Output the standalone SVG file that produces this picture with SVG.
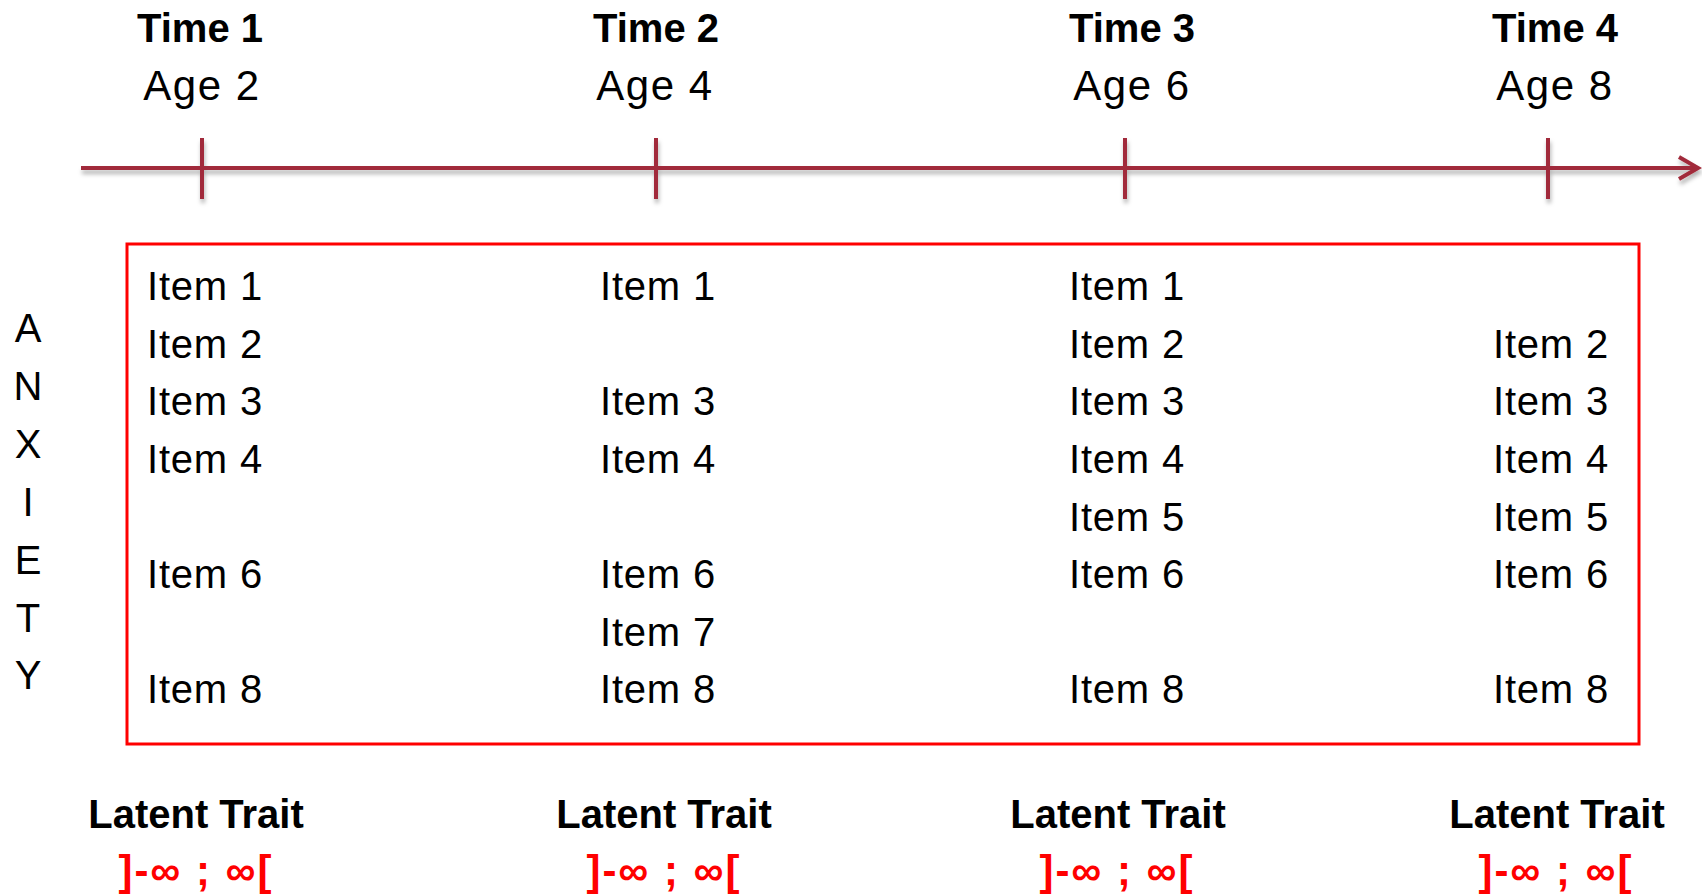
<svg xmlns="http://www.w3.org/2000/svg" width="1702" height="894" viewBox="0 0 1702 894">
<style>
text { font-family: "Liberation Sans", Arial, sans-serif; fill: #000; }
.time { font-size: 40px; font-weight: bold; text-anchor: middle; }
.age { font-size: 42px; letter-spacing: 1.5px; text-anchor: middle; }
.item { font-size: 40px; letter-spacing: 0.8px; }
.axis { font-size: 40px; text-anchor: middle; }
.lt { font-size: 40px; font-weight: bold; text-anchor: middle; }
.rng { font-size: 42px; font-weight: bold; letter-spacing: 2px; text-anchor: middle; fill: #FF0000; }
.tl { stroke: #A12A3A; stroke-width: 4; fill: none; }
</style>
<defs>
<filter id="sh" x="-5%" y="-50%" width="110%" height="200%">
<feDropShadow dx="1" dy="4" stdDeviation="2" flood-color="#000" flood-opacity="0.3"/>
</filter>
</defs>
<rect width="1702" height="894" fill="#fff"/>
<g id="connectors" filter="url(#sh)">
<line class="tl" x1="81" y1="168" x2="1697" y2="168"/>
<polyline class="tl" points="1679,157 1698,168 1679,179"/>
<line class="tl" x1="202" y1="138" x2="202" y2="199"/>
<line class="tl" x1="656" y1="138" x2="656" y2="199"/>
<line class="tl" x1="1125" y1="138" x2="1125" y2="199"/>
<line class="tl" x1="1548" y1="138" x2="1548" y2="199"/>
</g>
<g id="time1"><text class="time" x="200" y="42">Time 1</text><text class="age" x="202" y="100">Age 2</text></g>
<g id="time2"><text class="time" x="656" y="42">Time 2</text><text class="age" x="655" y="100">Age 4</text></g>
<g id="time3"><text class="time" x="1132" y="42">Time 3</text><text class="age" x="1132" y="100">Age 6</text></g>
<g id="time4"><text class="time" x="1555" y="42">Time 4</text><text class="age" x="1555" y="100">Age 8</text></g>
<g id="itembox"><rect x="127" y="244" width="1512" height="500" fill="none" stroke="#FF0000" stroke-width="3"/></g>
<g id="anxiety">
<text class="axis" x="28" y="342">A</text>
<text class="axis" x="28" y="400">N</text>
<text class="axis" x="28" y="458">X</text>
<text class="axis" x="28" y="516">I</text>
<text class="axis" x="28" y="574">E</text>
<text class="axis" x="28" y="632">T</text>
<text class="axis" x="28" y="689">Y</text>
</g>
<g id="items1">
<text class="item" x="147" y="300">Item 1</text>
<text class="item" x="147" y="358">Item 2</text>
<text class="item" x="147" y="415">Item 3</text>
<text class="item" x="147" y="473">Item 4</text>
<text class="item" x="147" y="588">Item 6</text>
<text class="item" x="147" y="703">Item 8</text>
</g>
<g id="items2">
<text class="item" x="600" y="300">Item 1</text>
<text class="item" x="600" y="415">Item 3</text>
<text class="item" x="600" y="473">Item 4</text>
<text class="item" x="600" y="588">Item 6</text>
<text class="item" x="600" y="646">Item 7</text>
<text class="item" x="600" y="703">Item 8</text>
</g>
<g id="items3">
<text class="item" x="1069" y="300">Item 1</text>
<text class="item" x="1069" y="358">Item 2</text>
<text class="item" x="1069" y="415">Item 3</text>
<text class="item" x="1069" y="473">Item 4</text>
<text class="item" x="1069" y="531">Item 5</text>
<text class="item" x="1069" y="588">Item 6</text>
<text class="item" x="1069" y="703">Item 8</text>
</g>
<g id="items4">
<text class="item" x="1493" y="358">Item 2</text>
<text class="item" x="1493" y="415">Item 3</text>
<text class="item" x="1493" y="473">Item 4</text>
<text class="item" x="1493" y="531">Item 5</text>
<text class="item" x="1493" y="588">Item 6</text>
<text class="item" x="1493" y="703">Item 8</text>
</g>
<g id="latent1"><text class="lt" x="196" y="828">Latent Trait</text><text class="rng" x="196" y="885">]-∞ ; ∞[</text></g>
<g id="latent2"><text class="lt" x="664" y="828">Latent Trait</text><text class="rng" x="664" y="885">]-∞ ; ∞[</text></g>
<g id="latent3"><text class="lt" x="1118" y="828">Latent Trait</text><text class="rng" x="1117" y="885">]-∞ ; ∞[</text></g>
<g id="latent4"><text class="lt" x="1557" y="828">Latent Trait</text><text class="rng" x="1556" y="885">]-∞ ; ∞[</text></g>
</svg>
